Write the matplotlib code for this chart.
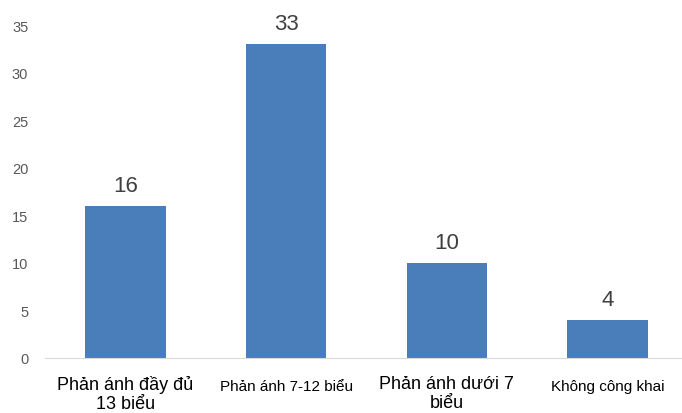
import matplotlib
matplotlib.use("Agg")
import matplotlib.pyplot as plt

categories = ["Phản ánh đầy đủ\n13 biểu", "Phản ánh 7-12 biểu", "Phản ánh dưới 7\nbiểu", "Không công khai"]
values = [16, 33, 10, 4]
yticks = [0, 5, 10, 15, 20, 25, 30, 35]
narrow = [False, True, False, True]

fig = plt.figure(figsize=(6.82, 4.14), dpi=100)
ax = fig.add_axes([45 / 682, 55 / 414, 643 / 682, 333 / 414])

x = list(range(len(categories)))
bars = ax.bar(x, values, width=0.5, color="#4a7ebb")
ax.set_xlim(-0.5, len(categories) - 0.5)
ax.set_ylim(0, 35)
ax.set_yticks(yticks)
ax.tick_params(axis="y", length=0, labelsize=10.5, labelcolor="#595959", pad=12)
ax.tick_params(axis="x", length=0)
ax.set_xticks([])
for lbl in ax.get_yticklabels():
    lbl.set_family("Liberation Sans")

for s in ["top", "right", "left"]:
    ax.spines[s].set_visible(False)
ax.spines["bottom"].set_color("#d9d9d9")

for b, v in zip(bars, values):
    ax.annotate(str(v), (b.get_x() + b.get_width() / 2, v), xytext=(0, 7),
                textcoords="offset points", ha="center", va="bottom",
                fontsize=16, color="#404040", family="Liberation Sans")

# category labels under the axis (second line runs off the bottom like the original)
for xi, lab, nar in zip(x, categories, narrow):
    if nar:
        ax.annotate(lab, (xi, 0), xytext=(0, -15), textcoords="offset points",
                    ha="center", va="top", fontsize=11, color="#000000",
                    family="Liberation Sans", annotation_clip=False)
    else:
        ax.annotate(lab, (xi, 0), xytext=(0, -12), textcoords="offset points",
                    ha="center", va="top", fontsize=13, color="#000000",
                    family="Liberation Sans", linespacing=1.15, annotation_clip=False)

fig.savefig("out.png", dpi=100)
